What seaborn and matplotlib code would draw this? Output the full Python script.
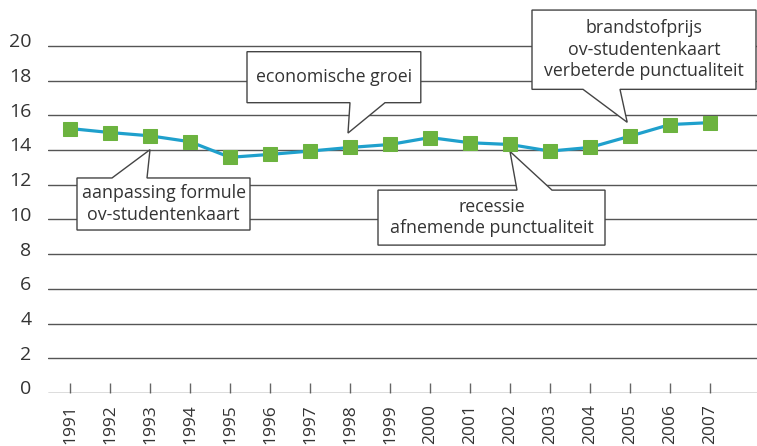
import matplotlib
matplotlib.use("Agg")
import matplotlib.pyplot as plt
import matplotlib.transforms as mtransforms
from matplotlib.patches import Polygon
import seaborn as sns

# Yearly series
years = [1991, 1992, 1993, 1994, 1995, 1996, 1997, 1998, 1999,
         2000, 2001, 2002, 2003, 2004, 2005, 2006, 2007]
values = [15.24, 15.01, 14.82, 14.48, 13.58, 13.75, 13.94, 14.15, 14.32,
          14.72, 14.42, 14.32, 13.94, 14.15, 14.80, 15.47, 15.58]
y_ticks = [0, 2, 4, 6, 8, 10, 12, 14, 16, 18, 20]

# Callout texts and the year each one points at
note_texts = ["aanpassing formule\nov-studentenkaart",
              "economische groei",
              "brandstofprijs\nov-studentenkaart\nverbeterde punctualiteit",
              "recessie\nafnemende punctualiteit"]
note_years = [1993, 1998, 2005, 2002]

sns.set_theme(style="white")
plt.rcParams["font.family"] = ["Open Sans", "DejaVu Sans"]

TXT = "#333333"
GRID = "#555555"
LINE = "#1fa0cc"
GREEN = "#6cb33f"

fig = plt.figure(figsize=(7.57, 4.46), dpi=100)
ax = fig.add_axes([48 / 757, (446 - 392.9) / 446, (757 - 48) / 757, 392.9 / 446])

sns.lineplot(x=years, y=values, ax=ax, color=LINE, linewidth=2.3,
             marker="s", markersize=10, markerfacecolor=GREEN,
             markeredgecolor=GREEN, zorder=4)

ax.set_xlim(1990.45, 2008.175)
ax.set_ylim(0, 22.65)
for s in ax.spines.values():
    s.set_visible(False)

ax.set_yticks(y_ticks)
ax.set_yticklabels([str(v) for v in y_ticks])
for v in y_ticks:
    ax.axhline(v, color=GRID, lw=1.0, zorder=1)
ax.tick_params(axis="y", length=0, pad=12, labelsize=14, labelcolor=TXT)
offset = mtransforms.ScaledTranslation(0, 4 / 72, fig.dpi_scale_trans)
for lab in ax.get_yticklabels():
    lab.set_transform(lab.get_transform() + offset)

ax.set_xticks(years)
ax.set_xticklabels([str(y) for y in years], rotation=90, va="top")
ax.tick_params(axis="x", direction="in", length=7.5, width=1, color="#666666",
               pad=8, labelsize=12.5, labelcolor=TXT, bottom=True)
ax.set_xlabel("")
ax.set_ylabel("")

val_of = dict(zip(years, values))


def callout(text, year, box, base, dx, dy, above):
    """Draw a boxed note with a pointer whose tip sits near (year, value)."""
    x0, x1, ylo, yhi = box
    b0, b1 = base
    tip = (year + dx, val_of[year] + dy)
    if above:  # box above the point, pointer on the bottom edge
        verts = [(x0, yhi), (x1, yhi), (x1, ylo), (b1, ylo), tip,
                 (b0, ylo), (x0, ylo)]
    else:      # box below the point, pointer on the top edge
        verts = [(x0, yhi), (b0, yhi), tip, (b1, yhi), (x1, yhi),
                 (x1, ylo), (x0, ylo)]
    ax.add_patch(Polygon(verts, closed=True, facecolor="white",
                         edgecolor="#444444", lw=1.0, zorder=3,
                         clip_on=False))
    ax.text((x0 + x1) / 2, (ylo + yhi) / 2, text, ha="center", va="center",
            fontsize=12.8, color=TXT, linespacing=1.25, zorder=5)


callout(note_texts[0], note_years[0], (1991.175, 1995.5, 9.39, 12.39),
        (1992.05, 1992.925), 0.0, -0.8, above=False)
callout(note_texts[1], note_years[1], (1995.425, 1999.77, 16.73, 19.67),
        (1998.0, 1998.875), -0.05, 0.83, above=True)
callout(note_texts[2], note_years[2], (2002.55, 2008.15, 17.5, 22.07),
        (2003.825, 2004.75), -0.07, 0.8, above=True)
callout(note_texts[3], note_years[3], (1998.7, 2004.375, 8.52, 11.69),
        (2002.175, 2003.05), 0.0, -0.4, above=False)

fig.savefig("out.png", dpi=100)
